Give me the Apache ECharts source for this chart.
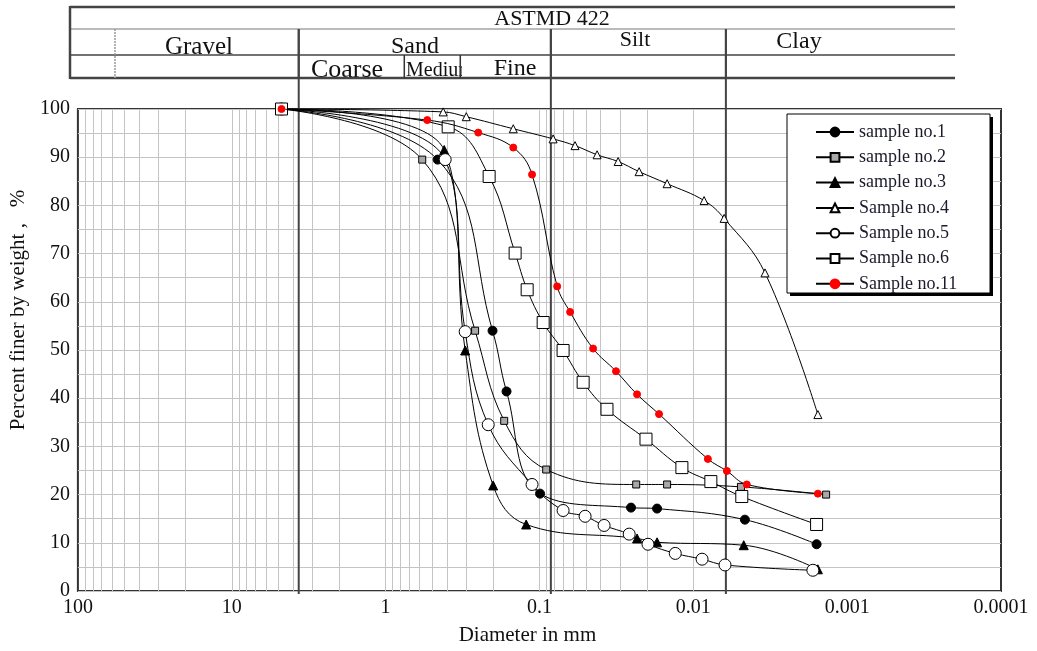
<!DOCTYPE html>
<html><head><meta charset="utf-8">
<script src="https://cdn.jsdelivr.net/npm/echarts@6/dist/echarts.min.js"></script>
<style>html,body{margin:0;padding:0;background:#fff}#c{width:1037px;height:651px}</style>
</head><body><div id="c"></div>
<script>
// ---------- data ----------
const xTickLabels = ['100', '10', '1', '0.1', '0.01', '0.001', '0.0001'];
const seriesNames = ['sample no.1', 'sample no.2', 'sample no.3', 'Sample no.4', 'Sample no.5', 'Sample no.6', 'Sample no.11'];

const s1_d = [4.75, 0.459, 0.2018, 0.1637, 0.0991, 0.0254, 0.0172, 0.00462, 0.00158];
const s1_p = [100, 89.5, 54.0, 41.4, 20.2, 17.3, 17.1, 14.8, 9.7];

const s2_d = [4.75, 0.578, 0.262, 0.1695, 0.0904, 0.0235, 0.0148, 0.0049, 0.00137];
const s2_p = [100, 89.5, 54.0, 35.3, 25.2, 22.1, 22.1, 21.6, 20.0];

const s3_d = [4.75, 0.416, 0.304, 0.200, 0.122, 0.0232, 0.0172, 0.0047, 0.00155];
const s3_p = [100, 91.5, 49.9, 21.9, 13.8, 10.9, 10.1, 9.5, 4.5];

const s4_d = [4.75, 0.4227, 0.299, 0.148, 0.0815, 0.0587, 0.0422, 0.0308, 0.0225, 0.0148, 0.00851, 0.0063, 0.00342, 0.00155];
const s4_p = [100, 99.4, 98.4, 95.9, 93.8, 92.4, 90.5, 89.1, 87.0, 84.5, 81.0, 77.3, 66.0, 36.6];

const s5_d = [4.75, 0.410, 0.304, 0.2153, 0.1117, 0.0702, 0.0505, 0.038, 0.0261, 0.0197, 0.0131, 0.00877, 0.00622, 0.00167];
const s5_p = [100, 89.5, 53.8, 34.5, 22.1, 16.7, 15.5, 13.6, 11.8, 9.7, 7.8, 6.6, 5.4, 4.3];

const s6_d = [4.75, 0.392, 0.2123, 0.1439, 0.1202, 0.0946, 0.0702, 0.052, 0.0364, 0.0203, 0.01186, 0.00769, 0.00484, 0.00158];
const s6_p = [100, 96.3, 86.0, 70.1, 62.5, 55.7, 49.9, 43.3, 37.7, 31.5, 25.6, 22.7, 19.6, 13.8];

const s11_d = [4.75, 0.536, 0.25, 0.148, 0.1117, 0.0767, 0.0632, 0.0448, 0.0318, 0.0232, 0.0167, 0.00804, 0.00605, 0.00449, 0.00155];
const s11_p = [100, 97.7, 95.1, 92.0, 86.4, 63.2, 57.9, 50.3, 45.6, 40.8, 36.7, 27.4, 24.9, 22.1, 20.2];

// boundary lines (mm) as drawn in the chart
const boundaries = [3.67, 0.0843, 0.00614];
// header sub-division lines (mm)
const subDivs = [0.756, 0.327];

// ---------- styles ----------
const FONT = 'Liberation Serif';
const styles = [
  {symbol: 'circle', size: 9, fill: '#000', border: '#000'},
  {symbol: 'rect', size: 7, fill: '#a8a8a8', border: '#000'},
  {symbol: 'triangle', size: 9, fill: '#000', border: '#000'},
  {symbol: 'triangle', size: 8, fill: '#fff', border: '#000'},
  {symbol: 'circle', size: 12, fill: '#fff', border: '#000'},
  {symbol: 'rect', size: 12, fill: '#fff', border: '#000'},
  {symbol: 'circle', size: 7, fill: '#ff0000', border: '#ff0000'}
];
const allD = [s1_d, s2_d, s3_d, s4_d, s5_d, s6_d, s11_d];
const allP = [s1_p, s2_p, s3_p, s4_p, s5_p, s6_p, s11_p];

// minor log grid values
const gridVals = [];
for (let e = -4; e <= 1; e++) {
  for (let m = 1; m <= 9; m++) {
    const v = m * Math.pow(10, e);
    if (v > 0.0001 && v < 100) gridVals.push(+v.toPrecision(3));
  }
}

const series = seriesNames.map((n, i) => ({
  name: n, type: 'line', smooth: 0.4, z: 5 + i,
  symbol: styles[i].symbol, symbolSize: styles[i].size, showSymbol: true,
  lineStyle: {color: '#000', width: 1},
  itemStyle: {color: styles[i].fill, borderColor: styles[i].border, borderWidth: 1},
  data: allD[i].map((d, j) => [d, allP[i][j]])
}));
series.unshift({
  name: '_grid', type: 'line', z: 1, silent: true, showSymbol: false,
  data: [[1, -50]], lineStyle: {opacity: 0},
  markLine: {
    silent: true, animation: false, symbol: ['none', 'none'], label: {show: false},
    lineStyle: {color: '#c4c4c4', width: 1, type: 'solid'},
    emphasis: {disabled: true},
    data: gridVals.map(v => ({xAxis: v}))
  }
});

const chart = echarts.init(document.getElementById('c'));
chart.setOption({
  animation: false,
  backgroundColor: '#fff',
  grid: {left: 77, right: 36, top: 109, bottom: 57, show: true, borderColor: '#333', borderWidth: 2, backgroundColor: 'transparent'},
  xAxis: {
    type: 'log', logBase: 10, min: 0.0001, max: 100, inverse: true,
    axisLine: {show: false}, axisTick: {show: false}, splitLine: {show: false},
    axisLabel: {
      fontFamily: FONT, fontSize: 20, color: '#111', margin: 7,
      formatter: v => xTickLabels[2 - Math.round(Math.log10(v))]
    },
    name: 'Diameter in mm', nameLocation: 'middle', nameGap: 34,
    nameTextStyle: {fontFamily: FONT, fontSize: 21, color: '#111', padding: [0, 24, 0, 0]}
  },
  yAxis: {
    type: 'value', min: 0, max: 100, interval: 10,
    axisLine: {show: false}, axisTick: {show: false},
    splitLine: {show: true, lineStyle: {color: '#c4c4c4', width: 1}},
    minorSplitLine: {show: true, lineStyle: {color: '#c4c4c4', width: 1}},
    minorTick: {show: false, splitNumber: 2},
    axisLabel: {fontFamily: FONT, fontSize: 20, color: '#111', margin: 8},
    name: 'Percent finer by weight ,   %', nameLocation: 'middle', nameGap: 46, nameRotate: 90,
    nameTextStyle: {fontFamily: FONT, fontSize: 21, color: '#111', padding: [0, 0, 0, 80]}
  },
  legend: {
    data: seriesNames, orient: 'vertical', left: 815, top: 123, padding: 0,
    itemWidth: 38, itemHeight: 11, itemGap: 7.3,
    textStyle: {fontFamily: FONT, fontSize: 18, color: '#1a1a2a', lineHeight: 18},
    selectedMode: false
  },
  series: series
});

// ---------- header table & boundary lines ----------
const px = v => chart.convertToPixel({xAxisIndex: 0}, v);
const bx = boundaries.map(px);
const sx = subDivs.map(px);
const L = 70, R = 955, Y0 = 7, Y1 = 29, Y2 = 55, Y3 = 78;
const g = [];
const hline = (y, w, c) => g.push({type: 'line', z: 20, shape: {x1: L, y1: y, x2: R, y2: y}, style: {stroke: c, lineWidth: w}});
const vline = (x, y1, y2, w, c, dash) => g.push({type: 'line', z: 20, shape: {x1: x, y1: y1, x2: x, y2: y2}, style: {stroke: c, lineWidth: w, lineDash: dash || null}});
// baseline-positioned text: top = baseline - 0.8375 * size
const text = (t, x, base, size, align) => g.push({type: 'text', z: 10, x: x, y: base - 0.8375 * size,
  style: {text: t, font: size + 'px ' + FONT, fill: '#111', align: align || 'center', verticalAlign: 'top'}});
const white = (x, y, w, h) => g.push({type: 'rect', z: 15, shape: {x: x, y: y, width: w, height: h}, style: {fill: '#fff'}});

text('ASTMD 422', 552, 27, 22);
text('Gravel', 199, 56, 25);
text('Sand', 415, 55, 24);
text('Silt', 635, 48, 22);
text('Clay', 799, 50, 24);
text('Coarse', 347, 79, 26);
text('Medium', 406, 77, 20, 'left');
text('Fine', 515, 77, 24);
white(140, 56, 120, 10);
white(300, 79, 100, 10);
white(462, 56, 26, 21);

hline(Y0, 2.5, '#444');
hline(Y1, 1, '#777');
hline(Y2, 1.5, '#444');
hline(Y3, 2.5, '#444');
vline(L, Y0 - 1, Y3 + 1, 2.5, '#444');
vline(115, Y1, Y3, 1.5, '#999', [2, 1]);
sx.forEach(x => vline(x, Y2, Y3, 1.5, '#333'));
bx.forEach(x => g.push({type: 'line', z: 2, shape: {x1: x, y1: Y1, x2: x, y2: 594}, style: {stroke: '#444', lineWidth: 2}}));
bx.forEach(x => vline(x, Y1, Y3 + 1, 2, '#444'));

// legend box with shadow
g.push({type: 'rect', z: 3, shape: {x: 790, y: 117, width: 203, height: 179}, style: {fill: '#000'}});
g.push({type: 'rect', z: 3, shape: {x: 787, y: 114, width: 203, height: 179}, style: {fill: '#fff', stroke: '#000', lineWidth: 1}});

chart.setOption({graphic: {elements: g}});
</script></body></html>
